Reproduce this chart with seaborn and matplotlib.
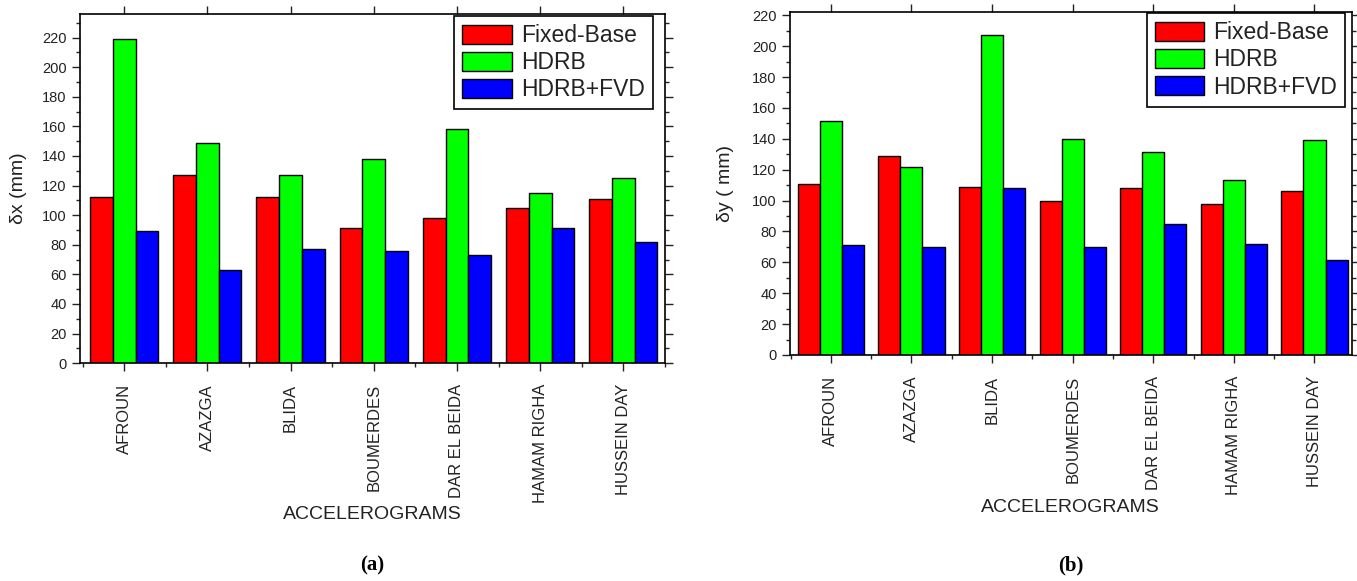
import pandas as pd
import numpy as np
import matplotlib
matplotlib.use("Agg")
import matplotlib.pyplot as plt
import seaborn as sns
from matplotlib.ticker import MultipleLocator, FixedLocator

# =========================================================
# DATA
# =========================================================
stations = ["AFROUN", "AZAZGA", "BLIDA", "BOUMERDES",
            "DAR EL BEIDA", "HAMAM RIGHA", "HUSSEIN DAY"]
cases = ["Fixed-Base", "HDRB", "HDRB+FVD"]

# (a) displacement in x (mm)
dx_fixed = [112, 127, 112, 91, 98, 105, 111]
dx_hdrb = [219, 149, 127, 138, 158, 115, 125]
dx_fvd = [89, 63, 77, 76, 73, 91, 82]

# (b) displacement in y (mm)
dy_fixed = [111, 129, 109, 100, 108, 97.5, 106]
dy_hdrb = [151.5, 122, 207.5, 140, 131.5, 113.5, 139]
dy_fvd = [71, 70, 108, 70, 85, 72, 61.5]

colors = ["#FF0000", "#00FF00", "#0000FF"]


def long_form(fixed, hdrb, fvd):
    rows = []
    for case, vals in zip(cases, [fixed, hdrb, fvd]):
        for st, v in zip(stations, vals):
            rows.append({"station": st, "case": case, "value": v})
    return pd.DataFrame(rows)


df_a = long_form(dx_fixed, dx_hdrb, dx_fvd)
df_b = long_form(dy_fixed, dy_hdrb, dy_fvd)

# =========================================================
# STYLE
# =========================================================
sns.set_style("white")
plt.rcParams["font.family"] = ["Liberation Sans", "DejaVu Sans"]
plt.rcParams["text.color"] = "#222222"
plt.rcParams["axes.labelcolor"] = "#222222"
plt.rcParams["xtick.color"] = "#222222"
plt.rcParams["ytick.color"] = "#222222"

fig = plt.figure(figsize=(13.57, 5.81), dpi=100)
ax_a = fig.add_axes([0.059, 0.375, 0.431, 0.601])
ax_b = fig.add_axes([0.582, 0.389, 0.414, 0.590])


def draw_panel(ax, df, ylabel, ylim, xlim, ylab_x, xlab_y, leg_anchor):
    sns.barplot(data=df, x="station", y="value", hue="case", palette=colors,
                saturation=1, width=0.82, edgecolor="black", linewidth=1.0, ax=ax)
    ax.set_ylim(*ylim)
    ax.set_xlim(*xlim)
    ax.yaxis.set_major_locator(MultipleLocator(20))
    ax.yaxis.set_minor_locator(MultipleLocator(10))
    ax.xaxis.set_minor_locator(FixedLocator(np.arange(-0.5, len(stations), 1.0)))
    for s in ax.spines.values():
        s.set_visible(True)
        s.set_color("black")
        s.set_linewidth(1.2)
    ax.tick_params(axis="y", which="major", direction="out", length=6, width=1,
                   labelsize=10.5, left=True, right=True)
    ax.tick_params(axis="y", which="minor", direction="out", length=3, width=1,
                   left=True, right=True)
    ax.tick_params(axis="x", which="major", direction="out", length=6, width=1,
                   labelsize=12, pad=9, bottom=True, top=True)
    ax.tick_params(axis="x", which="minor", direction="out", length=3, width=1,
                   bottom=True)
    for lab in ax.get_xticklabels():
        lab.set_rotation(90)
        lab.set_va("top")
        lab.set_ha("center")
    ax.set_ylabel(ylabel, fontsize=14)
    ax.yaxis.set_label_coords(ylab_x, 0.5)
    ax.set_xlabel("ACCELEROGRAMS", fontsize=14)
    ax.xaxis.set_label_coords(0.5, xlab_y)
    ax.legend(loc="upper right", bbox_to_anchor=leg_anchor, fontsize=16.5,
              frameon=True, fancybox=False, edgecolor="black", framealpha=1,
              handlelength=2.15, handleheight=0.9, handletextpad=0.4,
              labelspacing=0.18, borderpad=0.35, borderaxespad=0.0)
    ax.get_legend().get_frame().set_linewidth(1.2)


draw_panel(ax_a, df_a, "δx (mm)", (0, 236), (-0.53, 6.5),
           -0.09, -0.41, (0.979, 0.994))
draw_panel(ax_b, df_b, "δy ( mm)", (0, 222), (-0.51, 6.46),
           -0.1, -0.42, (0.989, 0.997))

fig.text(0.274, 0.027, "(a)", ha="center", va="center", fontsize=15,
         family=["Liberation Serif", "DejaVu Serif"], fontweight="bold",
         color="black")
fig.text(0.789, 0.027, "(b)", ha="center", va="center", fontsize=15,
         family=["Liberation Serif", "DejaVu Serif"], fontweight="bold",
         color="black")

fig.savefig("out.png", dpi=100)
